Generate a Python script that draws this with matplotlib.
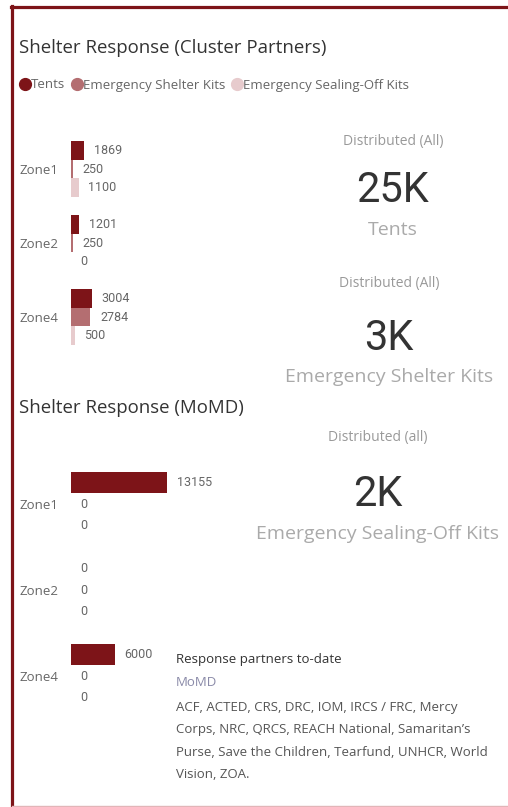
import matplotlib
matplotlib.use("Agg")
import matplotlib.pyplot as plt
from matplotlib.lines import Line2D
import numpy as np

# ── Data ────────────────────────────────────────────────────────────────────
zones = ["Zone1", "Zone2", "Zone4"]
series = ["Tents", "Emergency Shelter Kits", "Emergency Sealing-Off Kits"]

cluster_tents   = [1869, 1201, 3004]
cluster_shelter = [250, 250, 2784]
cluster_sealing = [1100, 0, 500]

momd_tents   = [13155, 0, 6000]
momd_shelter = [0, 0, 0]
momd_sealing = [0, 0, 0]

kpi_captions = ["Distributed (All)", "Distributed (All)", "Distributed (all)"]
kpi_values   = ["25K", "3K", "2K"]
kpi_labels   = ["Tents", "Emergency Shelter Kits", "Emergency Sealing-Off Kits"]

partners_title = "Response partners to-date"
partners_sub   = "MoMD"
partners_lines = [
    "ACF, ACTED, CRS, DRC, IOM, IRCS / FRC, Mercy",
    "Corps, NRC, QRCS, REACH National, Samaritan\u2019s",
    "Purse, Save the Children, Tearfund, UNHCR, World",
    "Vision, ZOA.",
]

# ── Style ───────────────────────────────────────────────────────────────────
colors = ["#7D1418", "#B46E71", "#E7CBCD"]
frame_red = "#7D1418"
UI = ["Open Sans", "DejaVu Sans"]
NUM = ["Roboto", "DejaVu Sans"]

W, H = 508, 807
fig = plt.figure(figsize=(W / 100, H / 100), dpi=100)
fig.patch.set_facecolor("white")


def fx(x):
    return x / W


def fy(y):
    return 1 - y / H


def px_axes(left, top, width, height):
    return fig.add_axes([fx(left), fy(top + height), width / W, height / H])


# frame lines
fig.add_artist(Line2D([fx(11.5), fx(11.5)], [fy(6), fy(807)], color=frame_red, lw=2.3))
fig.add_artist(Line2D([fx(10.5), 1], [fy(6.5), fy(6.5)], color=frame_red, lw=2.3))
fig.add_artist(Line2D([fx(12), 1], [fy(805.5), fy(805.5)], color="#E2B5B8", lw=1.0))


def bar_panel(ax, vals, xmax, bar_h):
    y = np.arange(len(zones))
    for k, v in enumerate(vals):
        pos = y + (k - 1) * 0.25
        bars = ax.barh(pos, v, height=bar_h, color=colors[k])
        ax.bar_label(bars, labels=[str(x) for x in v], padding=7,
                     fontsize=9, color="#666666", family=NUM)
    ax.set_xlim(0, xmax)
    ax.set_ylim(2.5, -0.5)
    ax.set_yticks(y)
    ax.set_yticklabels(zones, fontsize=9.5, color="#666666", family=UI)
    ax.tick_params(axis="y", length=0, pad=9)
    ax.set_xticks([])
    for s in ax.spines.values():
        s.set_visible(False)
    ax.patch.set_alpha(0)


# ── Top chart (cluster partners) ────────────────────────────────────────────
fig.text(fx(19), fy(48), "Shelter Response (Cluster Partners)", fontsize=13.4,
         color="#333333", family=UI, va="center", ha="left")

handles = [Line2D([], [], marker="o", ls="", color=c, markersize=8.5) for c in colors]
fig.legend(handles, series, loc="center left", bbox_to_anchor=(fx(18), fy(85)),
           ncol=3, frameon=False, handletextpad=0.0, columnspacing=0.35,
           prop={"family": UI, "size": 9.5}, labelcolor="#666666",
           handlelength=1.0, borderaxespad=0, borderpad=0)

ax1 = px_axes(71, 132, 200, 222)
bar_panel(ax1, [cluster_tents, cluster_shelter, cluster_sealing], 200 / 7.0 * 1000, 0.245)

# ── Bottom chart (MoMD) ─────────────────────────────────────────────────────
fig.text(fx(19), fy(408), "Shelter Response (MoMD)", fontsize=13.4,
         color="#333333", family=UI, va="center", ha="left")

ax2 = px_axes(71, 461, 200, 258)
bar_panel(ax2, [momd_tents, momd_shelter, momd_sealing], 200 / 7.3 * 1000, 0.245)

# ── KPI cards ───────────────────────────────────────────────────────────────
kpi_x = [393, 389, 378]
kpi_y = [(141, 190, 230), (284, 338, 377), (437, 494, 534)]
for cx, (cy, vy, ly), cap, val, lab in zip(kpi_x, kpi_y, kpi_captions, kpi_values, kpi_labels):
    fig.text(fx(cx), fy(cy), cap, fontsize=10, color="#999999", family=UI,
             ha="center", va="center")
    fig.text(fx(cx), fy(vy), val, fontsize=30, color="#333333", family=NUM,
             ha="center", va="center")
    fig.text(fx(cx), fy(ly), lab, fontsize=14, color="#AAAAAA", family=UI,
             ha="center", va="center")

# ── Partners text ───────────────────────────────────────────────────────────
fig.text(fx(176), fy(660), partners_title, fontsize=9.5, color="#333333",
         family=UI, va="center")
fig.text(fx(176), fy(683), partners_sub, fontsize=9.5, color="#8A8AA8",
         family=UI, va="center")
for i, line in enumerate(partners_lines):
    fig.text(fx(176), fy(707 + i * 22.5), line, fontsize=9.5, color="#555555",
             family=UI, va="center")

fig.savefig("out.png", dpi=100)
